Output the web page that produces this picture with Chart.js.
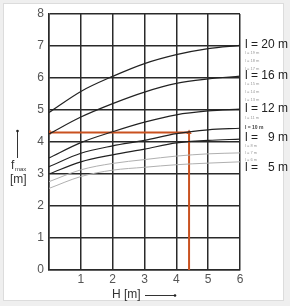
<!DOCTYPE html>
<html><head><meta charset="utf-8">
<script src="https://cdn.jsdelivr.net/npm/chart.js@4/dist/chart.umd.min.js"></script>
<style>html,body{margin:0;padding:0;background:#efefef;}#wrap{width:290px;height:306px;position:relative;}</style>
</head><body><div id="wrap"><canvas id="c" width="290" height="306"></canvas></div>
<script>
const hValues = [0, 1, 2, 3, 4, 5, 6];
const l20 = [4.92, 5.58, 6.05, 6.45, 6.73, 6.92, 7.02];
const l16 = [4.25, 4.78, 5.2, 5.56, 5.83, 5.97, 6.06];
const l12 = [3.5, 3.98, 4.32, 4.62, 4.85, 4.97, 5.03];
const l10 = [3.23, 3.65, 3.88, 4.05, 4.26, 4.38, 4.43];
const l9 = [3.0, 3.38, 3.6, 3.78, 3.97, 4.05, 4.09];
const l7 = [2.76, 3.13, 3.33, 3.45, 3.56, 3.63, 3.66];
const l6 = [2.55, 2.92, 3.12, 3.21, 3.29, 3.34, 3.38];
const exampleH = 4.4;
const exampleF = 4.3;
const sideLabels = ['l = 20 m','l = 19 m','l = 18 m','l = 17 m','l = 16 m','l = 15 m','l = 14 m','l = 13 m','l = 12 m','l = 11 m','l = 10 m','l =   9 m','l = 8 m','l = 7 m','l = 6 m','l =   5 m'];
const sideValues = [7.03, 6.78, 6.53, 6.3, 6.06, 5.81, 5.56, 5.31, 5.03, 4.75, 4.44, 4.15, 3.87, 3.65, 3.44, 3.19];
const sideMajor = [true,false,false,false,true,false,false,false,true,false,false,true,false,false,false,true];
const yTicks = [0,1,2,3,4,5,6,7,8];

const pts = arr => arr.map((v,i)=>({x:hValues[i], y:v}));
const curve = (arr, color, w) => ({data: pts(arr), borderColor: color, borderWidth: w, pointRadius: 0, tension: 0.4, cubicInterpolationMode: 'monotone', fill:false});

const bgPlugin = {
  id:'bg',
  beforeDraw(chart){
    const c = chart.ctx;
    c.save();
    c.fillStyle = '#efefef'; c.fillRect(0,0,290,306);
    c.fillStyle = '#ffffff'; c.fillRect(3,3,281,298);
    c.strokeStyle = '#dcdcdc'; c.lineWidth = 1; c.strokeRect(3.5,3.5,280,297);
    c.restore();
  }
};

const textPlugin = {
  id:'texts',
  afterDraw(chart){
    const c = chart.ctx, ys = chart.scales.y, xs = chart.scales.x;
    c.save();
    sideLabels.forEach((t,i)=>{
      const y = ys.getPixelForValue(sideValues[i]);
      if (sideMajor[i]) {
        c.font = '12px "Liberation Sans", Arial, sans-serif';
        c.fillStyle = '#222';
      } else if (i === 10) {
        c.font = 'bold 5px "Liberation Sans", Arial, sans-serif';
        c.fillStyle = '#444';
      } else {
        c.font = '4px "Liberation Sans", Arial, sans-serif';
        c.fillStyle = '#999';
      }
      c.textBaseline = 'middle'; c.textAlign = 'left';
      c.fillText(t, xs.right + 5, y);
    });
    c.fillStyle = '#333';
    c.font = '12px "Liberation Sans", Arial, sans-serif';
    c.textAlign = 'left'; c.textBaseline = 'alphabetic';
    c.fillText('f', 11, 169);
    c.font = '6px "Liberation Sans", Arial, sans-serif';
    c.fillText('max', 15, 171);
    c.font = '12px "Liberation Sans", Arial, sans-serif';
    c.fillText('[m]', 10, 183);
    c.strokeStyle = '#333'; c.lineWidth = 1;
    c.beginPath(); c.moveTo(17.5,158); c.lineTo(17.5,131); c.stroke();
    c.fillStyle='#222'; c.beginPath(); c.arc(17.5,131,1.3,0,Math.PI*2); c.fill();
    c.fillStyle = '#333';
    c.font = '12px "Liberation Sans", Arial, sans-serif';
    c.textBaseline = 'middle';
    c.fillText('H [m]', 112, 295);
    c.beginPath(); c.moveTo(145,295.5); c.lineTo(175,295.5); c.stroke();
    c.fillStyle='#222'; c.beginPath(); c.arc(175,295.5,1.3,0,Math.PI*2); c.fill();
    c.restore();
  }
};

new Chart(document.getElementById('c'), {
  type: 'line',
  data: {
    datasets: [
      curve(l6, '#b0b0b0', 1),
      curve(l7, '#b0b0b0', 1),
      curve(l9, '#222222', 1.2),
      curve(l10, '#222222', 1.2),
      curve(l12, '#222222', 1.2),
      curve(l16, '#222222', 1.2),
      curve(l20, '#222222', 1.2),
      {data:[{x:exampleH,y:0},{x:exampleH,y:exampleF}], borderColor:'#c9511f', borderWidth:2, pointRadius:[0,3], pointStyle:'triangle', pointBackgroundColor:'#c9511f', pointBorderWidth:0, tension:0},
      {data:[{x:exampleH,y:exampleF},{x:0,y:exampleF}], borderColor:'#c9511f', borderWidth:2, pointRadius:[0,3], pointStyle:'triangle', pointRotation:-90, pointBackgroundColor:'#c9511f', pointBorderWidth:0, tension:0}
    ]
  },
  options: {
    responsive:false, animation:false, devicePixelRatio:1,
    layout:{padding:{left:0,right:50,top:14,bottom:0}},
    plugins:{legend:{display:false}, tooltip:{enabled:false}},
    scales:{
      x:{type:'linear', min:0, max:6,
        ticks:{stepSize:1, padding:2, color:'#555', font:{family:'"Liberation Sans", Arial, sans-serif', size:12},
          callback:v=> v===0 ? '' : String(v)},
        grid:{color:'#2a2a2a', lineWidth:1.5, drawTicks:false},
        border:{color:'#2a2a2a', width:1.5},
        afterFit:s=>{s.height=36;}
      },
      y:{type:'linear', min:0, max:8,
        afterBuildTicks:s=>{s.ticks = yTicks.map(v=>({value:v}));},
        ticks:{padding:5, color:'#555', font:{family:'"Liberation Sans", Arial, sans-serif', size:12}},
        grid:{color:'#2a2a2a', lineWidth:1.5, drawTicks:false},
        border:{color:'#2a2a2a', width:1.5},
        afterFit:s=>{s.width=49;}
      }
    }
  },
  plugins:[bgPlugin, textPlugin]
});
</script></body></html>
